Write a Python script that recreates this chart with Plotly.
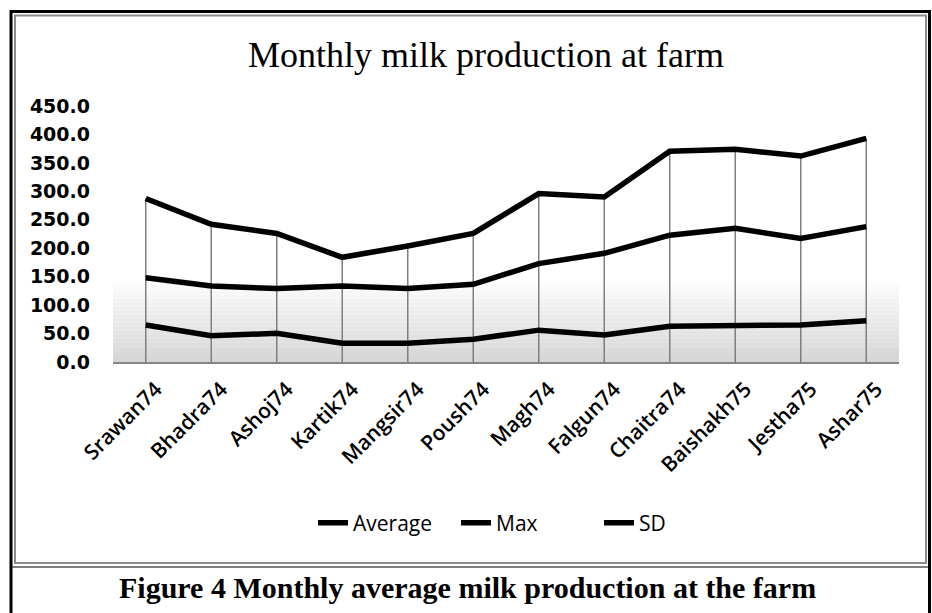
import plotly.graph_objects as go

months = ["Srawan74", "Bhadra74", "Ashoj74", "Kartik74", "Mangsir74", "Poush74",
          "Magh74", "Falgun74", "Chaitra74", "Baishakh75", "Jestha75", "Ashar75"]
average = [148, 133.5, 129, 133.5, 129, 136.5, 173, 191, 223, 235, 217, 238]
maximum = [287.5, 242, 226, 184, 204, 226, 296, 290, 370.5, 374, 362, 393]
sd = [65, 46, 50.5, 33, 33, 40, 56, 47.5, 63, 65, 65, 72.5]
y_ticks = [0, 50, 100, 150, 200, 250, 300, 350, 400, 450]

W, H = 932, 613
ML, MR, MT, MB = 113, 33, 106, 251
PW, PH = W - ML - MR, H - MT - MB


def px(x):
    return (x - ML) / PW


def py(y):
    return (H - MB - y) / PH


fig = go.Figure()

# high-low drop lines from Max down to the axis
drop_x, drop_y = [], []
for m, v in zip(months, maximum):
    drop_x += [m, m, None]
    drop_y += [0, v, None]
fig.add_trace(go.Scatter(x=drop_x, y=drop_y, mode="lines",
                         line=dict(color="#7f7f7f", width=1.5),
                         showlegend=False, hoverinfo="skip"))

for name, vals in [("Average", average), ("Max", maximum), ("SD", sd)]:
    fig.add_trace(go.Scatter(x=months, y=vals, mode="lines", name=name,
                             line=dict(color="black", width=5.5)))

shapes = []
# gradient band at lower part of plot area
n = 20
top_val = 139.5
for i in range(n):
    y0 = top_val * i / n
    y1 = top_val * (i + 1) / n
    t = i / (n - 1)  # 0 bottom -> 1 top
    g = int(round(0xd6 + (0xfb - 0xd6) * t))
    shapes.append(dict(type="rect", xref="x domain", yref="y", x0=0, x1=1,
                       y0=y0, y1=y1, fillcolor=f"rgb({g},{g},{g})",
                       line=dict(width=0), layer="below"))

# outer black frame
shapes.append(dict(type="rect", xref="paper", yref="paper",
                   x0=px(11), x1=px(929.5), y0=py(11.5), y1=py(640),
                   line=dict(color="black", width=3), fillcolor="rgba(0,0,0,0)"))
# inner chart frame (gray)
shapes.append(dict(type="rect", xref="paper", yref="paper",
                   x0=px(15), x1=px(926), y0=py(15.5), y1=py(563),
                   line=dict(color="#8c8c8c", width=2), fillcolor="rgba(0,0,0,0)"))
# caption separator
shapes.append(dict(type="line", xref="paper", yref="paper",
                   x0=px(12), x1=px(928), y0=py(567), y1=py(567),
                   line=dict(color="#555555", width=1.5)))

annotations = [
    dict(text="Monthly milk production at farm", xref="paper", yref="paper",
         x=px(486), y=py(55), xanchor="center", yanchor="middle", showarrow=False,
         font=dict(family="Liberation Serif", size=36, color="black")),
    dict(text="<b>Figure 4 Monthly average milk production at the farm</b>",
         xref="paper", yref="paper", x=px(467), y=py(587), xanchor="center",
         yanchor="middle", showarrow=False,
         font=dict(family="Liberation Serif", size=30, color="black")),
]

fig.update_layout(
    width=W, height=H,
    margin=dict(l=ML, r=MR, t=MT, b=MB, pad=0),
    paper_bgcolor="white", plot_bgcolor="white",
    shapes=shapes, annotations=annotations,
    font=dict(family="Open Sans", size=21, color="black"),
    legend=dict(orientation="h", x=px(313), xanchor="left", y=py(523), yanchor="middle",
                font=dict(family="Open Sans", size=21, color="black"),
                itemwidth=30, entrywidth=98, entrywidthmode="pixels",
                bgcolor="rgba(0,0,0,0)"),
    xaxis=dict(type="category", range=[-0.5, 11.5], showgrid=False, showline=True,
               linecolor="#868686", linewidth=1.5, ticks="", tickangle=-45,
               ticklabelshift=10, ticklabelstandoff=5,
               tickfont=dict(family="Open Sans", size=21, color="black", weight=600),
               zeroline=False),
    yaxis=dict(range=[0, 450], tickvals=y_ticks,
               ticktext=[f"{v:.1f}" for v in y_ticks], showgrid=False,
               showline=False, zeroline=False, ticks="",
               ticklabelstandoff=22,
               tickfont=dict(family="DejaVu Sans", size=19, color="black", weight="bold")),
)

fig.write_html("out.html")
